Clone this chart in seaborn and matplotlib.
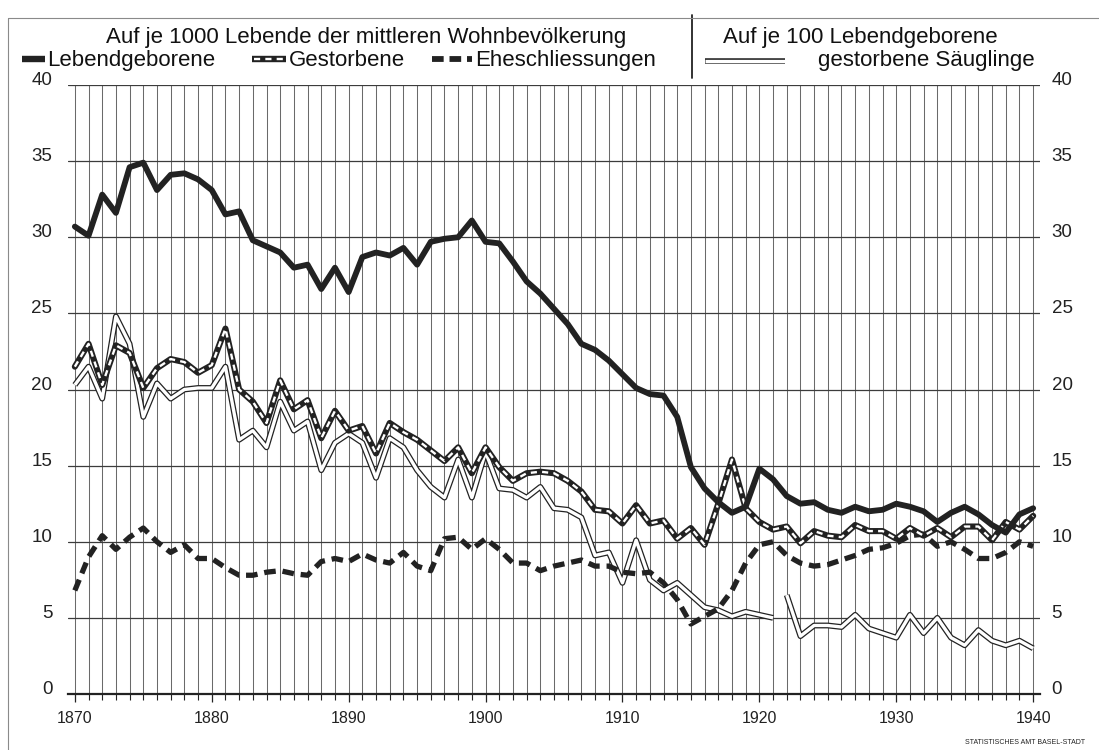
import numpy as np
import pandas as pd
import matplotlib
matplotlib.use("Agg")
import matplotlib.pyplot as plt
import seaborn as sns
from matplotlib.lines import Line2D

# ---------------- data ----------------
years = list(range(1870, 1941))

lebendgeborene = [
    30.7, 30.1, 32.8, 31.6, 34.6, 34.9, 33.1, 34.1, 34.2, 33.8,
    33.1, 31.5, 31.7, 29.8, 29.4, 29.0, 28.0, 28.2, 26.6, 28.0,
    26.4, 28.7, 29.0, 28.8, 29.3, 28.2, 29.7, 29.9, 30.0, 31.1,
    29.7, 29.6, 28.4, 27.1, 26.3, 25.3, 24.3, 23.0, 22.6, 21.9,
    21.0, 20.1, 19.7, 19.6, 18.2, 14.9, 13.5, 12.6, 11.9, 12.3,
    14.8, 14.1, 13.0, 12.5, 12.6, 12.1, 11.9, 12.3, 12.0, 12.1,
    12.5, 12.3, 12.0, 11.3, 11.9, 12.3, 11.8, 11.1, 10.6, 11.8,
    12.2]

gestorbene = [
    21.5, 23.0, 20.3, 22.9, 22.4, 20.1, 21.4, 22.0, 21.8, 21.1,
    21.6, 24.0, 20.0, 19.2, 17.8, 20.6, 18.7, 19.3, 16.8, 18.6,
    17.3, 17.6, 15.8, 17.8, 17.2, 16.7, 16.0, 15.3, 16.2, 14.5,
    16.2, 14.9, 14.0, 14.5, 14.6, 14.5, 14.0, 13.3, 12.1, 12.0,
    11.2, 12.4, 11.2, 11.4, 10.2, 10.9, 9.8, 12.5, 15.4, 12.2,
    11.3, 10.8, 11.0, 9.9, 10.7, 10.4, 10.3, 11.1, 10.7, 10.7,
    10.2, 10.9, 10.4, 10.9, 10.3, 11.0, 11.0, 10.1, 11.3, 10.8,
    11.7]

eheschliessungen = [
    6.8, 9.0, 10.4, 9.5, 10.3, 10.9, 10.0, 9.3, 9.8, 8.9,
    8.9, 8.3, 7.8, 7.8, 8.0, 8.1, 7.9, 7.8, 8.7, 8.9,
    8.7, 9.2, 8.8, 8.6, 9.3, 8.4, 8.1, 10.2, 10.3, 9.5,
    10.2, 9.5, 8.6, 8.6, 8.1, 8.4, 8.6, 8.8, 8.4, 8.4,
    8.0, 7.9, 8.0, 7.3, 6.2, 4.6, 5.1, 5.6, 6.8, 8.6,
    9.8, 10.0, 9.1, 8.6, 8.4, 8.5, 8.8, 9.1, 9.5, 9.6,
    9.9, 10.4, 10.5, 9.7, 10.0, 9.5, 8.9, 8.9, 9.3, 10.0,
    9.7]

saeuglinge_jahre_a = list(range(1870, 1922))
saeuglinge_a = [
    20.3, 21.5, 19.4, 24.8, 23.0, 18.2, 20.4, 19.4, 20.0, 20.1,
    20.1, 21.5, 16.7, 17.3, 16.2, 19.2, 17.3, 17.9, 14.7, 16.5,
    17.1, 16.5, 14.2, 16.8, 16.2, 14.7, 13.6, 12.9, 15.4, 12.9,
    15.9, 13.5, 13.4, 12.9, 13.6, 12.2, 12.1, 11.6, 9.1, 9.3,
    7.3, 10.1, 7.5, 6.8, 7.3, 6.5, 5.7, 5.5, 5.1, 5.4,
    5.2, 5.0]
saeuglinge_jahre_b = list(range(1922, 1941))
saeuglinge_b = [
    6.5, 3.8, 4.5, 4.5, 4.4, 5.2, 4.3, 4.0, 3.7, 5.2,
    4.0, 5.0, 3.7, 3.2, 4.2, 3.5, 3.2, 3.5, 3.0]

header_left = "Auf je 1000 Lebende der mittleren Wohnbevölkerung"
header_right = "Auf je 100 Lebendgeborene"
label_geb = "Lebendgeborene"
label_gest = "Gestorbene"
label_ehe = "Eheschliessungen"
label_saeug = "gestorbene Säuglinge"
source_text = "STATISTISCHES AMT BASEL-STADT"
y_ticks = [0, 5, 10, 15, 20, 25, 30, 35, 40]
x_ticks = [1870, 1880, 1890, 1900, 1910, 1920, 1930, 1940]

df = pd.DataFrame({"Jahr": years, "Lebendgeborene": lebendgeborene,
                   "Gestorbene": gestorbene, "Eheschliessungen": eheschliessungen})
df_s = pd.DataFrame({
    "Jahr": saeuglinge_jahre_a + saeuglinge_jahre_b,
    "Wert": saeuglinge_a + saeuglinge_b,
    "Abschnitt": ["a"] * len(saeuglinge_a) + ["b"] * len(saeuglinge_b)})

# ---------------- style ----------------
sns.set_style("white")
plt.rcParams["font.family"] = ["Liberation Sans", "DejaVu Sans"]
INK = "#222222"
GRID_V = "#6a6a6a"
GRID_H = "#3c3c3c"

W, H = 1099, 750
fig = plt.figure(figsize=(W / 100, H / 100), dpi=100)
ax = fig.add_axes([68 / W, 1 - 694 / H, (1040 - 68) / W, (694 - 85) / H])

# grid
ax.set_xlim(1869.5, 1940.5)
ax.set_ylim(0, 40)
for yr in years:
    ax.axvline(yr, color=GRID_V, lw=0.75, zorder=1)
for yv in y_ticks[1:]:
    ax.axhline(yv, color=GRID_H, lw=0.9, zorder=1)

# Säuglinge: double white line
sns.lineplot(data=df_s, x="Jahr", y="Wert", units="Abschnitt", estimator=None,
             color=INK, lw=4.2, ax=ax, legend=False, zorder=3,
             solid_capstyle="butt")
sns.lineplot(data=df_s, x="Jahr", y="Wert", units="Abschnitt", estimator=None,
             color="white", lw=2.4, ax=ax, legend=False, zorder=3.1,
             solid_capstyle="butt")

# Eheschliessungen: thick dashed
sns.lineplot(data=df, x="Jahr", y="Eheschliessungen", color=INK, lw=3.8,
             linestyle=(0, (2.2, 1.3)), ax=ax, legend=False, zorder=4,
             dash_capstyle="butt")

# Gestorbene: black with white dashes inside
sns.lineplot(data=df, x="Jahr", y="Gestorbene", color=INK, lw=4.4, ax=ax,
             legend=False, zorder=5)
sns.lineplot(data=df, x="Jahr", y="Gestorbene", color="white", lw=1.7,
             linestyle=(0, (2.6, 2.2)), ax=ax, legend=False, zorder=5.1,
             dash_capstyle="butt")

# Lebendgeborene: thick solid
sns.lineplot(data=df, x="Jahr", y="Lebendgeborene", color=INK, lw=4.2, ax=ax,
             legend=False, zorder=6)

# axes styling
for s in ["top", "left", "right"]:
    ax.spines[s].set_visible(False)
ax.spines["bottom"].set_color(INK)
ax.spines["bottom"].set_linewidth(1.6)
ax.spines["bottom"].set_zorder(7)

ax.set_xticks(x_ticks)
ax.set_xticks(years, minor=True)
ax.set_xticklabels([str(v) for v in x_ticks])
ax.tick_params(axis="x", which="major", length=6, width=0.9, color=INK,
               pad=6, labelsize=11.5, labelcolor=INK, direction="out", bottom=True)
ax.tick_params(axis="x", which="minor", length=4, width=0.8, color=INK,
               direction="out", bottom=True)

ax.set_yticks(y_ticks)
ax.set_yticklabels([str(v) for v in y_ticks])
ax.tick_params(axis="y", length=0, labelsize=13.5, labelcolor=INK,
               left=False, right=False, labelleft=True, labelright=True)
for t in ax.yaxis.get_major_ticks():
    t.label1.set_verticalalignment("baseline")
    t.label2.set_verticalalignment("baseline")
    t.label1.set_x(-0.011)
    t.label2.set_x(1.007)
ax.set_xlabel("")
ax.set_ylabel("")

# ---------------- header / legend ----------------
def fx(px):
    return px / W

def fy(py):
    return 1 - py / H

fs_head = 16
TXT = "#111111"
fig.text(fx(366), fy(43), header_left, ha="center", va="baseline",
         fontsize=fs_head, color=TXT)
fig.text(fx(860), fy(43), header_right, ha="center", va="baseline",
         fontsize=fs_head, color=TXT)
fig.text(fx(47), fy(66), label_geb, ha="left", va="baseline",
         fontsize=fs_head, color=TXT)
fig.text(fx(289), fy(66), label_gest, ha="left", va="baseline",
         fontsize=fs_head, color=TXT)
fig.text(fx(475), fy(66), label_ehe, ha="left", va="baseline",
         fontsize=fs_head, color=TXT)
fig.text(fx(1035), fy(66), label_saeug, ha="right", va="baseline",
         fontsize=fs_head, color=TXT)

# legend samples
fig.add_artist(Line2D([fx(22), fx(45)], [fy(59), fy(59)], color=INK, lw=4.6,
                      solid_capstyle="butt"))
fig.add_artist(Line2D([fx(252), fx(286)], [fy(59), fy(59)], color=INK, lw=4.6,
                      solid_capstyle="butt"))
fig.add_artist(Line2D([fx(254), fx(284)], [fy(59), fy(59)], color="white", lw=1.7,
                      linestyle=(0, (2.6, 2.2)), dash_capstyle="butt"))
fig.add_artist(Line2D([fx(432), fx(472)], [fy(59), fy(59)], color=INK, lw=4.2,
                      linestyle=(0, (2.0, 1.0)), dash_capstyle="butt"))
fig.add_artist(Line2D([fx(705), fx(785)], [fy(61), fy(61)], color=INK, lw=4.0,
                      solid_capstyle="butt"))
fig.add_artist(Line2D([fx(705), fx(785)], [fy(61), fy(61)], color="white", lw=2.4,
                      solid_capstyle="butt"))

# divider
fig.add_artist(Line2D([fx(692), fx(692)], [fy(15), fy(78)], color=INK, lw=1.3))

# page border
fig.add_artist(Line2D([fx(8), fx(8)], [fy(18), fy(750)], color="#8a8a8a", lw=0.8))
fig.add_artist(Line2D([fx(8), fx(1099)], [fy(18), fy(18)], color="#8a8a8a", lw=0.8))

fig.text(fx(1085), fy(743), source_text, ha="right", va="center",
         fontsize=5, color=INK)

fig.savefig("out.png", dpi=100, facecolor="white")
